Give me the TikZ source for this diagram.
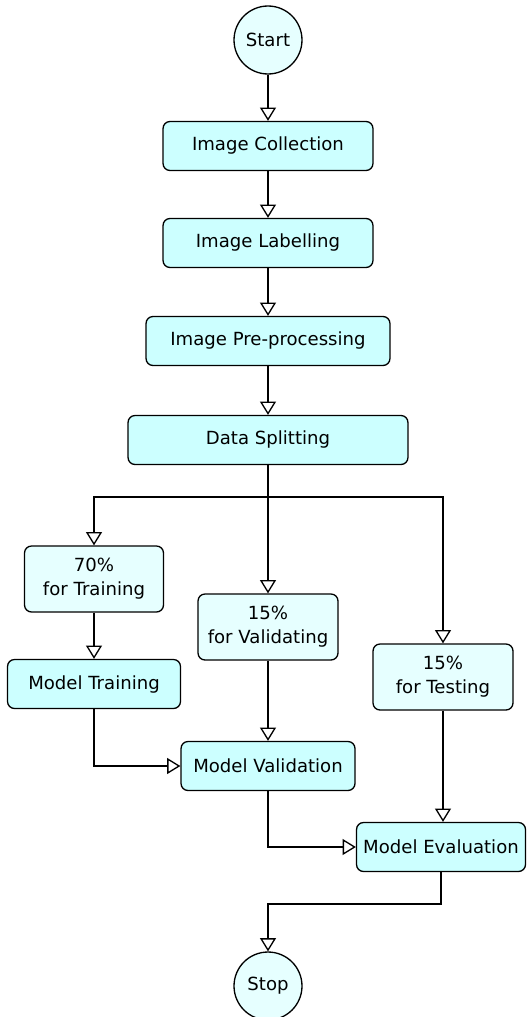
\documentclass[tikz,border=0pt]{standalone}
\usepackage{fontspec}
\setmainfont{DejaVu Sans}
\usetikzlibrary{arrows.meta}
\definecolor{procfill}{HTML}{CCFFFF}
\definecolor{termfill}{HTML}{E6FFFF}

\begin{document}
\begin{tikzpicture}[x=0.02cm,y=-0.02cm,
    font=\fontsize{10.3}{13.5}\selectfont,
    process/.style={draw=black,fill=procfill,rounded corners=4pt,line width=0.75pt,
                    minimum height=0.98cm,inner sep=0pt},
    share/.style={draw=black,fill=termfill,rounded corners=4pt,line width=0.75pt,
                  align=center,minimum height=1.32cm,minimum width=2.8cm,inner sep=0pt},
    terminal/.style={draw=black,fill=termfill,circle,minimum size=1.36cm,
                     line width=0.75pt,inner sep=0pt},
    flow/.style={line width=0.75pt,-{Triangle[open,length=7.5pt,width=9pt]}}]
                \useasboundingbox (0,0) rectangle (527,1017);

                % main line
                \node[terminal] (start) at (268,40) {Start};
                \node[process,minimum width=4.2cm] (collect) at (268,146) {Image Collection};
                \node[process,minimum width=4.2cm] (label) at (268,243) {Image Labelling};
                \node[process,minimum width=4.88cm] (prep) at (268,341) {Image Pre-processing};
                \node[process,minimum width=5.6cm] (split) at (268,440) {Data Splitting};

                % the three shares
                \node[share,minimum width=2.78cm] (train) at (94,579) {70\%\\for Training};
                \node[share] (valid) at (268,627) {15\%\\for Validating};
                \node[share] (test) at (443,677) {15\%\\for Testing};

                \node[process,minimum width=3.46cm] (mtrain) at (94,684) {Model Training};
                \node[process,minimum width=3.48cm] (mvalid) at (268,766) {Model Validation};
                \node[process,minimum width=3.38cm] (meval) at (441,847) {Model Evaluation};
                \node[terminal] (stop) at (268,986) {Stop};

                \coordinate (fork) at (268,497);
                \coordinate (join) at (268,904);

                \draw[flow] (start) -- (collect);
                \draw[flow] (collect) -- (label);
                \draw[flow] (label) -- (prep);
                \draw[flow] (prep) -- (split);
                \draw[flow] (split) -- (valid);
                \draw[flow] (fork) -| (train);
                \draw[flow] (fork) -| (test);
                \draw[flow] (train) -- (mtrain);
                \draw[flow] (valid) -- (mvalid);
                \draw[flow] (test.south) -- (test.south |- meval.north);
                \draw[flow] (mtrain) |- (mvalid);
                \draw[flow] (mvalid) |- (meval);
                \draw[flow] (meval.south) |- (join) -- (stop);
            \end{tikzpicture}
\end{document}
